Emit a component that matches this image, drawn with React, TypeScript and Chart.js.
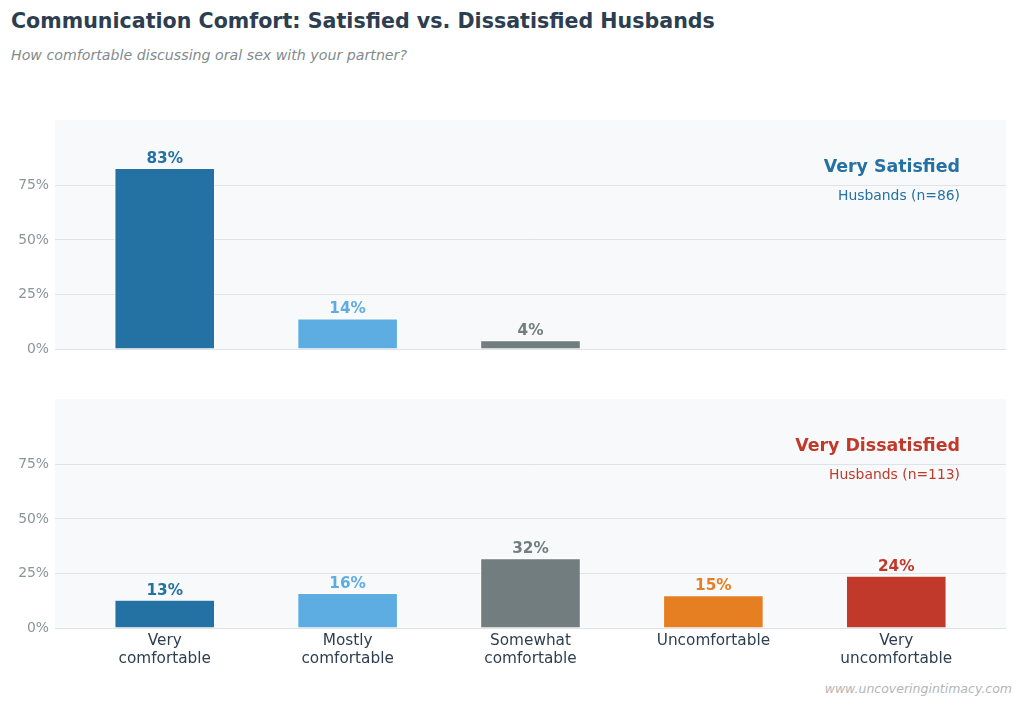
import React, { useEffect, useRef } from "react";
import { Chart, registerables } from "chart.js";
Chart.register(...registerables);

const FONT = "'DejaVu Sans', 'Liberation Sans', sans-serif";
Chart.defaults.font.family = FONT;

const categories: string[][] = [
  ["Very", "comfortable"],
  ["Mostly", "comfortable"],
  ["Somewhat", "comfortable"],
  ["Uncomfortable"],
  ["Very", "uncomfortable"],
];
const barColors = ["#2471a3", "#5dade2", "#717d7e", "#e67e22", "#c0392b"];
const satisfiedValues: (number | null)[] = [83, 14, 4, null, null];
const dissatisfiedValues: (number | null)[] = [13, 16, 32, 15, 24];
const yTickValues = [0, 25, 50, 75];

const satisfiedTitle = "Very Satisfied";
const satisfiedSub = "Husbands (n=86)";
const dissatisfiedTitle = "Very Dissatisfied";
const dissatisfiedSub = "Husbands (n=113)";

function buildConfig(
  values: (number | null)[],
  title: string,
  sub: string,
  titleColor: string,
  showX: boolean,
  padding: any
): any {
  const points: { x: number; y: number }[] = [];
  const colors: string[] = [];
  values.forEach((v, i) => {
    if (v !== null) {
      points.push({ x: i, y: v });
      colors.push(barColors[i]);
    }
  });

  const bgPlugin = {
    id: "panelBg",
    beforeDraw(chart: any) {
      const { ctx, chartArea } = chart;
      ctx.save();
      ctx.fillStyle = "#f8f9fa";
      ctx.fillRect(chartArea.left, chartArea.top, chartArea.right - chartArea.left, chartArea.bottom - chartArea.top);
      ctx.restore();
    },
  };

  const labelPlugin = {
    id: "valueLabels",
    afterDatasetsDraw(chart: any) {
      const { ctx } = chart;
      const meta = chart.getDatasetMeta(0);
      ctx.save();
      ctx.font = `bold 15.3px ${FONT}`;
      ctx.textAlign = "center";
      ctx.textBaseline = "alphabetic";
      meta.data.forEach((el: any, idx: number) => {
        const p = points[idx];
        ctx.fillStyle = colors[idx];
        ctx.fillText(`${Math.round(p.y)}%`, el.x, el.y - 5);
      });
      ctx.restore();
    },
  };

  const cornerPlugin = {
    id: "cornerText",
    afterDraw(chart: any) {
      const { ctx, chartArea } = chart;
      ctx.save();
      ctx.textAlign = "right";
      ctx.textBaseline = "alphabetic";
      ctx.fillStyle = titleColor;
      ctx.font = `bold 17.4px ${FONT}`;
      ctx.fillText(title, chartArea.right - 46, chartArea.top + 52);
      ctx.font = `13.9px ${FONT}`;
      ctx.fillText(sub, chartArea.right - 46, chartArea.top + 80);
      ctx.restore();
    },
  };

  return {
    type: "bar",
    data: {
      datasets: [
        {
          data: points,
          backgroundColor: colors,
          borderColor: "rgba(255,255,255,0.85)",
          borderWidth: 1,
          barPercentage: 0.55,
          categoryPercentage: 1,
        },
      ],
    },
    options: {
      responsive: false,
      animation: false,
      devicePixelRatio: 1,
      layout: { padding },
      plugins: {
        legend: { display: false },
        tooltip: { enabled: false },
        title: { display: false },
      },
      scales: {
        x: {
          type: "linear",
          min: -0.6,
          max: 4.6,
          offset: false,
          display: showX,
          grid: { display: false, drawTicks: false, offset: false },
          border: { display: false },
          afterBuildTicks(scale: any) {
            scale.ticks = categories.map((_, i) => ({ value: i }));
          },
          afterFit(scale: any) {
            if (showX) scale.height = 52;
          },
          ticks: {
            autoSkip: false,
            maxRotation: 0,
            padding: 4,
            color: "#2c3e50",
            font: { size: 15.3, lineHeight: 1.17 },
            callback: (v: any) => categories[v] ?? "",
          },
        },
        y: {
          min: 0,
          max: 105,
          afterBuildTicks(scale: any) {
            scale.ticks = yTickValues.map((v) => ({ value: v }));
          },
          afterFit(scale: any) {
            scale.width = 55;
          },
          grid: { color: "#dfe3e8", lineWidth: 1, drawTicks: false },
          border: { display: false },
          ticks: {
            padding: 6,
            color: "#8a9697",
            font: { size: 13.9 },
            callback: (v: any) => `${v}%`,
          },
        },
      },
    },
    plugins: [bgPlugin, labelPlugin, cornerPlugin],
  };
}

function Panel(props: {
  values: (number | null)[];
  title: string;
  sub: string;
  color: string;
  showX: boolean;
  top: number;
  height: number;
  padding: any;
}) {
  const ref = useRef<HTMLCanvasElement | null>(null);
  useEffect(() => {
    if (!ref.current) return;
    const chart = new Chart(
      ref.current,
      buildConfig(props.values, props.title, props.sub, props.color, props.showX, props.padding)
    );
    return () => chart.destroy();
  }, []);
  return (
    <canvas
      ref={ref}
      width={1024}
      height={props.height}
      style={{ position: "absolute", left: 0, top: props.top, width: 1024, height: props.height }}
    />
  );
}

export default function App() {
  return (
    <div
      style={{
        position: "fixed",
        left: 0,
        top: 0,
        width: 1024,
        height: 706,
        background: "#ffffff",
        overflow: "hidden",
        fontFamily: FONT,
      }}
    >
      <div
        style={{
          position: "absolute",
          left: 11,
          top: 11,
          fontSize: 20.6,
          lineHeight: 1,
          fontWeight: "bold",
          color: "#2c3e50",
          whiteSpace: "nowrap",
        }}
      >
        Communication Comfort: Satisfied vs. Dissatisfied Husbands
      </div>
      <div
        style={{
          position: "absolute",
          left: 11,
          top: 47.5,
          fontSize: 14.2,
          lineHeight: 1,
          fontStyle: "italic",
          color: "#7f8c8d",
          whiteSpace: "nowrap",
        }}
      >
        How comfortable discussing oral sex with your partner?
      </div>
      <Panel
        values={satisfiedValues}
        title={satisfiedTitle}
        sub={satisfiedSub}
        color="#2471a3"
        showX={false}
        top={100}
        height={264}
        padding={{ top: 20, right: 18, bottom: 15, left: 0 }}
      />
      <Panel
        values={dissatisfiedValues}
        title={dissatisfiedTitle}
        sub={dissatisfiedSub}
        color="#c0392b"
        showX={true}
        top={380}
        height={300}
        padding={{ top: 19, right: 18, bottom: 0, left: 0 }}
      />
      <div
        style={{
          position: "absolute",
          right: 12,
          top: 683,
          fontSize: 12.5,
          lineHeight: 1,
          fontStyle: "italic",
          color: "#b3b6b7",
          whiteSpace: "nowrap",
        }}
      >
        www.uncoveringintimacy.com
      </div>
    </div>
  );
}
